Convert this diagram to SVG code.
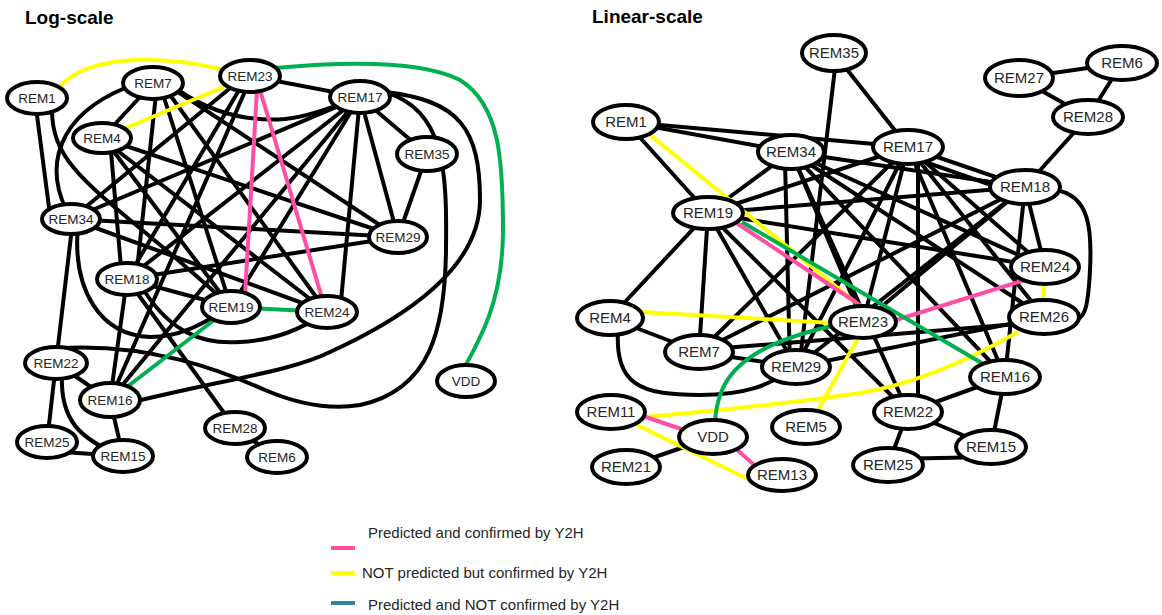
<svg xmlns="http://www.w3.org/2000/svg" width="1162" height="615" viewBox="0 0 1162 615">
<style>
.e{stroke:#000;stroke-width:4;fill:none;stroke-linecap:round}
.y{stroke:#FFFF00;stroke-width:4;fill:none}
.p{stroke:#FF4FA5;stroke-width:4;fill:none}
.g{stroke:#00B050;stroke-width:4;fill:none}
.t{stroke:#31849B;stroke-width:4;fill:none}
ellipse{fill:#fff;stroke:#000;stroke-width:4}
text{font-family:"Liberation Sans",Arial,sans-serif;fill:#262626;text-anchor:middle}
.sl text{font-size:13.5px}
.sr text{font-size:15px}
.title{font-weight:bold;font-size:19px;text-anchor:start;fill:#000}
.leg{font-size:15px;text-anchor:start}
</style>
<rect width="1162" height="615" fill="#fff"/>
<text class="title" x="25" y="24">Log-scale</text>
<text class="title" x="592" y="23">Linear-scale</text>

<g id="connectors">
<!-- log-scale black -->
<path class="e" d="M35,100 L50,215"/>
<path class="e" d="M52,110 C52,175 110,195 231,307"/>
<path class="e" d="M153,83 L102,138"/>
<path class="e" d="M125,88 C60,115 40,165 71,219"/>
<path class="e" d="M157,85 L136,279"/>
<path class="e" d="M160,85 L231,307"/>
<path class="e" d="M165,88 L327,312"/>
<path class="e" d="M175,90 L398,237"/>
<path class="e" d="M178,90 C210,112 245,122 285,119 C305,117 325,110 360,97"/>
<path class="e" d="M110,140 L122,279"/>
<path class="e" d="M105,140 L231,307"/>
<path class="e" d="M110,145 L327,312"/>
<path class="e" d="M102,138 L398,237"/>
<path class="e" d="M240,80 L71,219"/>
<path class="e" d="M245,80 L127,279"/>
<path class="e" d="M250,80 L110,400"/>
<path class="e" d="M250,76 L360,97"/>
<path class="e" d="M360,97 L71,219"/>
<path class="e" d="M360,97 L127,279"/>
<path class="e" d="M360,97 L110,400"/>
<path class="e" d="M360,97 L231,307"/>
<path class="e" d="M360,97 L340,312"/>
<path class="e" d="M360,97 L398,237"/>
<path class="e" d="M360,97 L427,154"/>
<path class="e" d="M427,154 L398,237"/>
<path class="e" d="M71,219 L398,237"/>
<path class="e" d="M71,219 L327,312"/>
<path class="e" d="M73,219 L56,363"/>
<path class="e" d="M78,225 C72,290 100,335 150,337 C180,337 200,325 231,307"/>
<path class="e" d="M127,279 L231,307"/>
<path class="e" d="M127,279 L398,237"/>
<path class="e" d="M127,279 L110,400"/>
<path class="e" d="M127,279 L235,428"/>
<path class="e" d="M145,292 C170,330 200,345 240,342 C275,340 300,330 327,312"/>
<path class="e" d="M60,348 C150,343 220,370 265,390 C300,405 330,410 360,405 C430,390 445,330 446,250 C447,170 445,110 385,92"/>
<path class="e" d="M125,404 C220,380 290,372 330,352 C400,320 480,270 480,200 C480,130 460,100 385,92"/>
<path class="e" d="M56,363 L110,400"/>
<path class="e" d="M56,363 L47,442"/>
<path class="e" d="M62,375 C60,420 80,440 123,456"/>
<path class="e" d="M47,451 L123,456"/>
<path class="e" d="M110,400 L123,456"/>
<path class="e" d="M235,428 L277,457"/>
<!-- log-scale coloured -->
<path class="y" d="M60,86 C95,50 175,58 225,70"/>
<path class="y" d="M102,138 L250,76"/>
<path class="p" d="M257,90 L245,295"/>
<path class="p" d="M260,90 L322,298"/>
<path class="g" d="M231,307 L327,312"/>
<path class="g" d="M231,307 L110,400"/>
<path class="g" d="M275,68 C340,62 420,60 460,80 C500,105 503,160 503,230 C503,300 480,340 463,370"/>

<!-- linear-scale black -->
<path class="e" d="M626,122 L908,147"/>
<path class="e" d="M626,122 L791,152"/>
<path class="e" d="M626,122 L708,213"/>
<path class="e" d="M834,53 L908,147"/>
<path class="e" d="M836,60 L800,360"/>
<path class="e" d="M791,152 L708,213"/>
<path class="e" d="M791,152 L1025,187"/>
<path class="e" d="M791,152 L1045,267"/>
<path class="e" d="M791,152 L1044,317"/>
<path class="e" d="M791,152 L863,322"/>
<path class="e" d="M791,152 L1005,377"/>
<path class="e" d="M785,160 L790,367"/>
<path class="e" d="M791,152 L908,412"/>
<path class="e" d="M908,147 L1025,187"/>
<path class="e" d="M905,155 L1020,195"/>
<path class="e" d="M908,147 L708,213"/>
<path class="e" d="M908,147 L699,352"/>
<path class="e" d="M908,147 L863,322"/>
<path class="e" d="M908,147 L1045,267"/>
<path class="e" d="M908,147 L1044,317"/>
<path class="e" d="M908,147 L1005,377"/>
<path class="e" d="M918,150 L918,412"/>
<path class="e" d="M908,147 L796,367"/>
<path class="e" d="M1025,187 L1088,117"/>
<path class="e" d="M1025,187 L708,213"/>
<path class="e" d="M1025,187 L863,322"/>
<path class="e" d="M1025,187 L796,367"/>
<path class="e" d="M1025,187 L1005,377"/>
<path class="e" d="M1025,187 L1045,267"/>
<path class="e" d="M1025,187 L699,352"/>
<path class="e" d="M1055,190 C1090,195 1092,230 1090,270 C1088,310 1085,320 1070,322"/>
<path class="e" d="M708,213 L610,318"/>
<path class="e" d="M708,213 L699,352"/>
<path class="e" d="M708,213 L796,367"/>
<path class="e" d="M708,213 L908,412"/>
<path class="e" d="M708,213 L1045,267"/>
<path class="e" d="M610,318 L699,352"/>
<path class="e" d="M618,330 C615,385 640,395 700,395 C745,395 770,385 790,370"/>
<path class="e" d="M699,352 L796,367"/>
<path class="e" d="M699,350 L1044,322"/>
<path class="e" d="M796,367 L1044,317"/>
<path class="e" d="M908,412 L1005,377"/>
<path class="e" d="M908,412 L991,447"/>
<path class="e" d="M908,412 L888,465"/>
<path class="e" d="M1005,377 L991,447"/>
<path class="e" d="M888,459 L991,457"/>
<path class="e" d="M1019,78 L1122,63"/>
<path class="e" d="M1019,78 L1088,117"/>
<path class="e" d="M1088,117 L1122,63"/>
<path class="e" d="M713,437 L626,467"/>
<!-- linear-scale coloured -->
<path class="y" d="M650,135 L860,306"/>
<path class="y" d="M642,312 L832,323"/>
<path class="y" d="M858,338 L817,412"/>
<path class="y" d="M1018,332 C960,365 910,385 860,393 C780,405 700,412 645,417"/>
<path class="y" d="M1044,270 L1043,315"/>
<path class="y" d="M637,425 L750,480"/>
<path class="p" d="M735,222 L860,305"/>
<path class="p" d="M1025,280 L896,320"/>
<path class="p" d="M640,415 L690,432"/>
<path class="p" d="M735,448 L760,470"/>
<path class="g" d="M742,222 L985,365"/>
<path class="g" d="M832,326 C770,340 735,360 722,390 C716,405 715,415 715,425"/>
</g>

<g class="sl">
<g id="log-REM1"><ellipse cx="37" cy="98" rx="30" ry="16"/><text x="37" y="103">REM1</text></g>
<g id="log-REM7"><ellipse cx="153" cy="83" rx="30" ry="16"/><text x="153" y="88">REM7</text></g>
<g id="log-REM23"><ellipse cx="250" cy="76" rx="30" ry="16"/><text x="250" y="81">REM23</text></g>
<g id="log-REM4"><ellipse cx="102" cy="138" rx="29" ry="15"/><text x="102" y="143">REM4</text></g>
<g id="log-REM17"><ellipse cx="360" cy="97" rx="30" ry="16"/><text x="360" y="102">REM17</text></g>
<g id="log-REM35"><ellipse cx="427" cy="154" rx="30" ry="17"/><text x="427" y="159">REM35</text></g>
<g id="log-REM34"><ellipse cx="71" cy="219" rx="29" ry="15"/><text x="71" y="224">REM34</text></g>
<g id="log-REM29"><ellipse cx="398" cy="237" rx="29" ry="16"/><text x="398" y="242">REM29</text></g>
<g id="log-REM18"><ellipse cx="127" cy="279" rx="30" ry="16"/><text x="127" y="284">REM18</text></g>
<g id="log-REM19"><ellipse cx="231" cy="307" rx="29" ry="16"/><text x="231" y="312">REM19</text></g>
<g id="log-REM24"><ellipse cx="327" cy="312" rx="30" ry="16"/><text x="327" y="317">REM24</text></g>
<g id="log-REM22"><ellipse cx="56" cy="363" rx="31" ry="16"/><text x="56" y="368">REM22</text></g>
<g id="log-REM16"><ellipse cx="110" cy="400" rx="30" ry="17"/><text x="110" y="405">REM16</text></g>
<g id="log-REM25"><ellipse cx="47" cy="442" rx="30" ry="16"/><text x="47" y="447">REM25</text></g>
<g id="log-REM15"><ellipse cx="123" cy="456" rx="30" ry="16"/><text x="123" y="461">REM15</text></g>
<g id="log-REM28"><ellipse cx="235" cy="428" rx="30" ry="16"/><text x="235" y="433">REM28</text></g>
<g id="log-REM6"><ellipse cx="277" cy="457" rx="30" ry="16"/><text x="277" y="462">REM6</text></g>
<g id="log-VDD"><ellipse cx="466" cy="381" rx="29" ry="16"/><text x="466" y="386">VDD</text></g>
</g>

<g class="sr">
<g id="lin-REM35"><ellipse cx="834" cy="53" rx="32" ry="18"/><text x="834" y="58">REM35</text></g>
<g id="lin-REM1"><ellipse cx="626" cy="122" rx="33" ry="17"/><text x="626" y="127">REM1</text></g>
<g id="lin-REM34"><ellipse cx="791" cy="152" rx="33" ry="17"/><text x="791" y="157">REM34</text></g>
<g id="lin-REM19"><ellipse cx="708" cy="213" rx="35" ry="16"/><text x="708" y="218">REM19</text></g>
<g id="lin-REM17"><ellipse cx="908" cy="147" rx="35" ry="17"/><text x="908" y="152">REM17</text></g>
<g id="lin-REM27"><ellipse cx="1019" cy="78" rx="34" ry="18"/><text x="1019" y="83">REM27</text></g>
<g id="lin-REM6"><ellipse cx="1122" cy="63" rx="35" ry="17"/><text x="1122" y="68">REM6</text></g>
<g id="lin-REM28"><ellipse cx="1088" cy="117" rx="35" ry="17"/><text x="1088" y="122">REM28</text></g>
<g id="lin-REM18"><ellipse cx="1025" cy="187" rx="35" ry="17"/><text x="1025" y="192">REM18</text></g>
<g id="lin-REM24"><ellipse cx="1045" cy="267" rx="34" ry="17"/><text x="1045" y="272">REM24</text></g>
<g id="lin-REM26"><ellipse cx="1044" cy="317" rx="35" ry="17"/><text x="1044" y="322">REM26</text></g>
<g id="lin-REM23"><ellipse cx="863" cy="322" rx="33" ry="16"/><text x="863" y="327">REM23</text></g>
<g id="lin-REM16"><ellipse cx="1005" cy="377" rx="35" ry="17"/><text x="1005" y="382">REM16</text></g>
<g id="lin-REM22"><ellipse cx="908" cy="412" rx="34" ry="17"/><text x="908" y="417">REM22</text></g>
<g id="lin-REM15"><ellipse cx="991" cy="447" rx="35" ry="17"/><text x="991" y="452">REM15</text></g>
<g id="lin-REM25"><ellipse cx="888" cy="465" rx="35" ry="17"/><text x="888" y="470">REM25</text></g>
<g id="lin-REM4"><ellipse cx="610" cy="318" rx="33" ry="17"/><text x="610" y="323">REM4</text></g>
<g id="lin-REM7"><ellipse cx="699" cy="352" rx="34" ry="17"/><text x="699" y="357">REM7</text></g>
<g id="lin-REM29"><ellipse cx="796" cy="367" rx="34" ry="17"/><text x="796" y="372">REM29</text></g>
<g id="lin-REM11"><ellipse cx="611" cy="412" rx="34" ry="17"/><text x="611" y="417">REM11</text></g>
<g id="lin-VDD"><ellipse cx="713" cy="437" rx="34" ry="17"/><text x="713" y="442">VDD</text></g>
<g id="lin-REM5"><ellipse cx="806" cy="427" rx="34" ry="17"/><text x="806" y="432">REM5</text></g>
<g id="lin-REM21"><ellipse cx="626" cy="467" rx="34" ry="17"/><text x="626" y="472">REM21</text></g>
<g id="lin-REM13"><ellipse cx="782" cy="475" rx="34" ry="16"/><text x="782" y="480">REM13</text></g>
</g>

<g id="legend">
<path class="p" d="M331,548 L355,548"/>
<path class="y" d="M331,573 L355,573"/>
<path class="t" d="M331,603 L355,603"/>
<text class="leg" x="368" y="538">Predicted and confirmed by Y2H</text>
<text class="leg" x="362" y="578">NOT predicted but confirmed by Y2H</text>
<text class="leg" x="368" y="610">Predicted and NOT confirmed by Y2H</text>
</g>
</svg>
